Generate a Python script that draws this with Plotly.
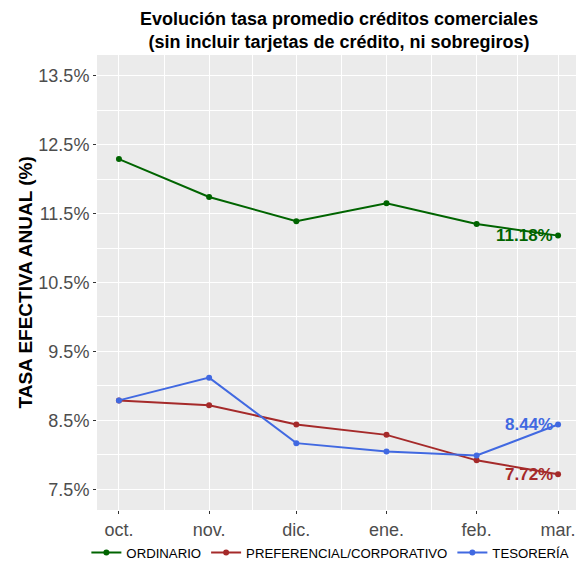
import plotly.graph_objects as go
import pandas as pd

# data
months = ["2016-10-01", "2016-11-01", "2016-12-01", "2017-01-01", "2017-02-01", "2017-03-01"]
month_labels = ["oct.", "nov.", "dic.", "ene.", "feb.", "mar."]

ordinario = [12.29, 11.74, 11.39, 11.65, 11.35, 11.18]
preferencial = [8.79, 8.72, 8.44, 8.29, 7.92, 7.72]
tesoreria = [8.79, 9.12, 8.17, 8.05, 7.99, 8.44]

y_ticks = [7.5, 8.5, 9.5, 10.5, 11.5, 12.5, 13.5]

series = [
    ("ORDINARIO", ordinario, "#006400"),
    ("PREFERENCIAL/CORPORATIVO", preferencial, "#A52A2A"),
    ("TESORERÍA", tesoreria, "#4169E1"),
]

dates = pd.to_datetime(months)
span = dates[-1] - dates[0]
x_range = [dates[0] - span * 0.05, dates[-1] + span * 0.05]
# minor breaks halfway between the months, like ggplot
minor_x = [dates[i] + (dates[i + 1] - dates[i]) / 2 for i in range(len(dates) - 1)]
minor_y = [v + 0.5 for v in y_ticks[:-1]]

font = "Liberation Sans, Arial, sans-serif"

fig = go.Figure()
for name, vals, col in series:
    fig.add_trace(go.Scatter(
        x=dates, y=vals, mode="lines+markers", name=name,
        line=dict(color=col, width=2), marker=dict(color=col, size=6),
    ))
    fig.add_annotation(
        x=dates[-1], y=vals[-1], text=f"<b>{vals[-1]:.2f}%</b>",
        showarrow=False, xanchor="right", yanchor="middle", xshift=-3,
        font=dict(family=font, size=17, color=col),
    )

# title and y-axis title as annotations so they don't move the plot area
fig.add_annotation(
    x=0.5, y=1, xref="paper", yref="paper", xanchor="center", yanchor="bottom", yshift=2,
    text="<b>Evolución tasa promedio créditos comerciales<br>(sin incluir tarjetas de crédito, ni sobregiros)</b>",
    showarrow=False, borderpad=0, font=dict(family=font, size=18, color="black"),
)
fig.add_annotation(
    x=-0.147, y=0.5, xref="paper", yref="paper", xanchor="center", yanchor="middle",
    text="<b>TASA EFECTIVA ANUAL (%)</b>", textangle=-90,
    showarrow=False, font=dict(family=font, size=19, color="black"),
)

# the page body has an 8px margin, so the figure is a bit smaller than the window
fig.update_layout(
    width=576, height=562,
    margin=dict(l=89, r=4, t=47, b=60, autoexpand=False),
    paper_bgcolor="white", plot_bgcolor="#EBEBEB",
    font=dict(family=font),
    # left-anchored just outside the plot so it may use the full width on one row
    legend=dict(
        orientation="h", x=-0.022, xanchor="left", y=-0.0945, yanchor="middle",
        font=dict(size=13.2, color="black"), itemwidth=30, tracegroupgap=0,
    ),
    showlegend=True,
)

fig.update_xaxes(
    range=x_range, tickvals=dates, ticktext=month_labels,
    showgrid=True, gridcolor="white", gridwidth=1.2,
    ticks="outside", ticklen=3, tickcolor="#333333",
    tickfont=dict(size=18, color="#4D4D4D"),
    minor=dict(tickvals=minor_x, showgrid=True, gridcolor="white", gridwidth=0.6, ticks=""),
    zeroline=False, showline=False, automargin=False,
)
fig.update_yaxes(
    range=[7.2, 13.8], tickvals=y_ticks, ticktext=[f"{v:.1f}%" for v in y_ticks],
    showgrid=True, gridcolor="white", gridwidth=1.2,
    ticks="outside", ticklen=3, tickcolor="#333333",
    tickfont=dict(size=18, color="#4D4D4D"),
    minor=dict(tickvals=minor_y, showgrid=True, gridcolor="white", gridwidth=0.6, ticks=""),
    zeroline=False, showline=False, automargin=False,
)

fig.write_html("out.html")
